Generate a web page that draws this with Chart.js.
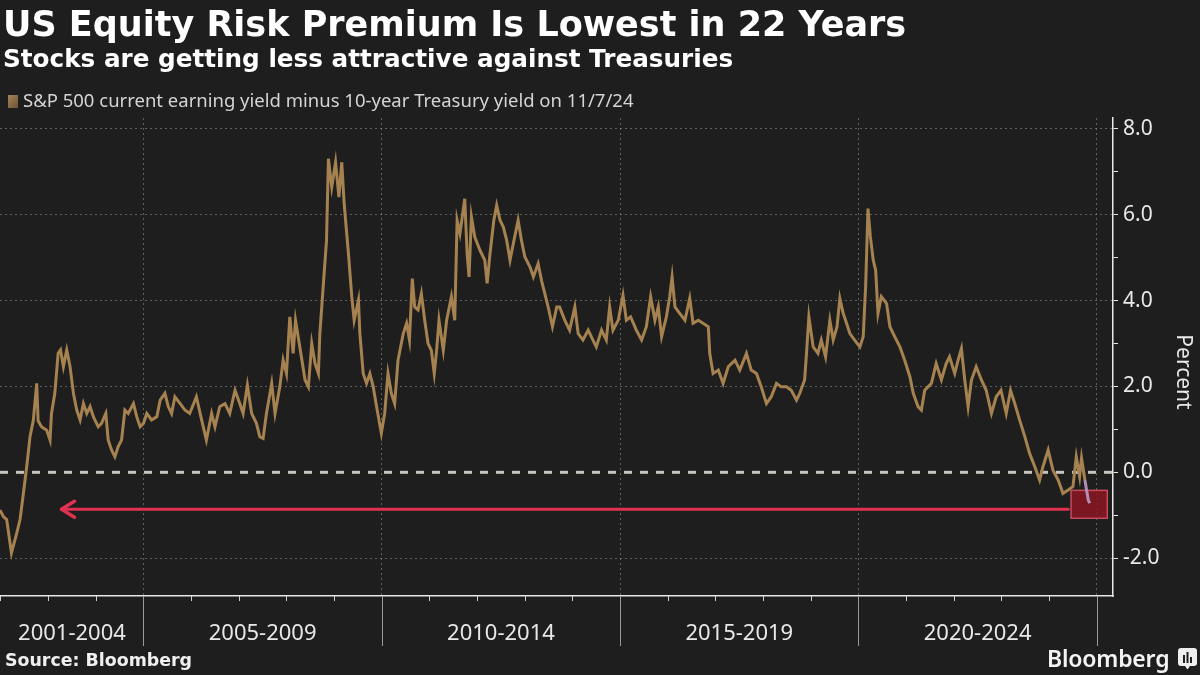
<!DOCTYPE html>
<html>
<head>
<meta charset="utf-8">
<script src="https://cdn.jsdelivr.net/npm/chart.js@4.4.1/dist/chart.umd.min.js"></script>
<style>
  html, body { margin: 0; padding: 0; background: #1e1e1e; }
  #wrap { position: relative; width: 1200px; height: 675px; overflow: hidden; background: #1e1e1e; }
  #chart { position: absolute; left: 0; top: 0; }
  .t { position: absolute; white-space: nowrap; }
  #title { left: 3px; top: 6px; font: bold 35px 'DejaVu Sans'; line-height: 36px; color: #ffffff; }
  #subtitle { left: 3px; top: 46px; font: bold 24.7px 'DejaVu Sans'; line-height: 26px; color: #ffffff; }
  #legend { left: 8px; top: 88px; font: 18.5px 'Noto Sans'; line-height: 24px; color: #d4d4d4; }
  #legend span { display: inline-block; width: 10px; height: 13px; margin-right: 5px; vertical-align: -1px;
                 background: linear-gradient(135deg, #a4845a, #6e5234); }
  #source { left: 5px; top: 650px; font: bold 17.4px 'DejaVu Sans'; line-height: 20px; color: #f0f0f0; }
  #brand { left: 1047px; top: 644px; font: 600 23px 'Noto Sans'; line-height: 28px; color: #f4f4f4; letter-spacing: -0.2px; }
  #icon { position: absolute; left: 1178px; top: 648px; }
</style>
</head>
<body>
<div id="wrap">
  <canvas id="chart" width="1200" height="675"></canvas>
  <div class="t" id="title">US Equity Risk Premium Is Lowest in 22 Years</div>
  <div class="t" id="subtitle">Stocks are getting less attractive against Treasuries</div>
  <div class="t" id="legend"><span></span>S&amp;P 500 current earning yield minus 10-year Treasury yield on 11/7/24</div>
  <div class="t" id="source">Source: Bloomberg</div>
  <div class="t" id="brand">Bloomberg</div>
  <svg id="icon" width="19" height="22" viewBox="0 0 19 22">
    <path d="M3 0 H16 Q19 0 19 3 V15 Q19 18 16 18 H12 L9.5 21.5 L7 18 H3 Q0 18 0 15 V3 Q0 0 3 0 Z" fill="#eeeeee"/>
    <rect x="5" y="7" width="2" height="8" fill="#1e1e1e"/>
    <rect x="8.5" y="4" width="2" height="11" fill="#1e1e1e"/>
    <rect x="12" y="9" width="2" height="6" fill="#1e1e1e"/>
  </svg>
</div>
<script>
// decimal year of each reading
const years = [
  2001.99, 2002.06, 2002.13, 2002.23, 2002.34, 2002.41, 2002.48, 2002.55, 2002.62, 2002.69,
  2002.76, 2002.79, 2002.86, 2002.97, 2003.04, 2003.07, 2003.14, 2003.21, 2003.26, 2003.32,
  2003.39, 2003.46, 2003.53, 2003.60, 2003.67, 2003.74, 2003.81, 2003.88, 2003.95, 2004.05,
  2004.12, 2004.21, 2004.26, 2004.33, 2004.40, 2004.47, 2004.54, 2004.61, 2004.68, 2004.79,
  2004.86, 2004.93, 2005.00, 2005.07, 2005.17, 2005.28, 2005.35, 2005.45, 2005.52, 2005.59,
  2005.66, 2005.77, 2005.87,
  2005.97, 2006.11, 2006.22, 2006.32, 2006.43, 2006.50, 2006.60, 2006.71, 2006.81, 2006.92,
  2007.02, 2007.09, 2007.18, 2007.27, 2007.37, 2007.44, 2007.51, 2007.58, 2007.69, 2007.76,
  2007.86, 2007.93, 2008.00, 2008.07, 2008.14, 2008.19, 2008.28, 2008.39, 2008.46, 2008.53,
  2008.60, 2008.67, 2008.70, 2008.77, 2008.84, 2008.88, 2008.95, 2009.03, 2009.10, 2009.16,
  2009.21, 2009.30, 2009.37, 2009.42, 2009.51, 2009.54, 2009.61, 2009.68, 2009.75,
  2009.82, 2009.89, 2009.99, 2010.06, 2010.13, 2010.20, 2010.27, 2010.34, 2010.45, 2010.52,
  2010.58, 2010.64, 2010.69, 2010.76, 2010.83, 2010.90, 2010.97, 2011.04, 2011.10, 2011.15,
  2011.20, 2011.29, 2011.36, 2011.46, 2011.53, 2011.58, 2011.64, 2011.74, 2011.79, 2011.83,
  2011.88, 2011.95, 2012.06, 2012.16, 2012.21, 2012.27, 2012.35, 2012.41, 2012.48, 2012.55,
  2012.62, 2012.69, 2012.76, 2012.86, 2012.93, 2013.00, 2013.11, 2013.18, 2013.28, 2013.35,
  2013.42, 2013.49, 2013.58, 2013.67,
  2013.73, 2013.84, 2013.94, 2014.05, 2014.12, 2014.22, 2014.33, 2014.43, 2014.50, 2014.61,
  2014.71, 2014.78, 2014.85, 2014.96, 2015.06, 2015.13, 2015.22, 2015.34, 2015.45, 2015.55,
  2015.64, 2015.73, 2015.80, 2015.87, 2015.97, 2016.04, 2016.09, 2016.15, 2016.25, 2016.36,
  2016.46, 2016.53, 2016.64, 2016.74, 2016.85, 2016.88, 2016.95, 2017.06, 2017.16, 2017.27,
  2017.41, 2017.51,
  2017.65, 2017.75, 2017.86, 2017.96, 2018.07, 2018.17, 2018.28, 2018.38, 2018.49, 2018.59,
  2018.70, 2018.77, 2018.87, 2018.91, 2018.96, 2019.05, 2019.15, 2019.22, 2019.31, 2019.40,
  2019.47, 2019.55, 2019.61, 2019.68, 2019.75, 2019.82, 2019.92, 2020.03, 2020.10, 2020.15,
  2020.20, 2020.25, 2020.31, 2020.36, 2020.41, 2020.48, 2020.59, 2020.66, 2020.76, 2020.87,
  2020.97, 2021.08, 2021.15, 2021.25, 2021.32, 2021.39,
  2021.53, 2021.63, 2021.74, 2021.84, 2021.91, 2022.02, 2022.09, 2022.16, 2022.23, 2022.30,
  2022.37, 2022.47, 2022.58, 2022.68, 2022.79, 2022.89, 2022.99, 2023.10, 2023.19, 2023.28,
  2023.38, 2023.49, 2023.59, 2023.70, 2023.80, 2023.87, 2023.98, 2024.08, 2024.19, 2024.29,
  2024.40, 2024.50, 2024.57, 2024.64, 2024.68, 2024.75, 2024.82, 2024.85
];
// earnings yield minus 10-year yield, percent
const premium = [
  -0.88, -1.03, -1.10, -1.88, -1.42, -1.10, -0.50, 0.13, 0.83, 1.22,
  2.07, 1.20, 1.06, 0.98, 0.75, 1.37, 1.84, 2.77, 2.85, 2.46,
  2.85, 2.46, 1.84, 1.45, 1.22, 1.60, 1.37, 1.53, 1.29, 1.06,
  1.14, 1.37, 0.75, 0.52, 0.36, 0.60, 0.75, 1.45, 1.37, 1.60,
  1.29, 1.06, 1.14, 1.37, 1.22, 1.29, 1.68, 1.84, 1.53, 1.37,
  1.76, 1.60, 1.45,
  1.37, 1.76, 1.22, 0.75, 1.37, 1.06, 1.53, 1.60, 1.37, 1.91,
  1.60, 1.37, 2.03, 1.37, 1.14, 0.83, 0.79, 1.37, 2.07, 1.37,
  1.99, 2.61, 2.30, 3.62, 2.77, 3.54, 2.92, 2.15, 1.99, 3.00,
  2.53, 2.30, 3.23, 4.32, 5.40, 7.30, 6.64, 7.22, 6.41, 7.22,
  6.26, 5.09, 4.09, 3.54, 4.01, 3.23, 2.30, 2.07, 2.30,
  1.99, 1.53, 0.91, 1.37, 2.30, 1.84, 1.60, 2.61, 3.23, 3.47,
  3.08, 4.51, 3.85, 3.78, 4.16, 3.54, 3.00, 2.84, 2.30, 2.84,
  3.54, 2.84, 3.54, 4.09, 3.54, 5.87, 5.56, 6.37, 5.09, 4.55,
  5.95, 5.48, 5.17, 4.94, 4.40, 5.09, 5.87, 6.22, 5.87, 5.71,
  5.40, 4.94, 5.33, 5.87, 5.40, 5.02, 4.78, 4.55, 4.86, 4.47,
  4.16, 3.85, 3.39, 3.85,
  3.85, 3.54, 3.31, 3.85, 3.23, 3.08, 3.31, 3.08, 2.92, 3.31,
  3.08, 3.85, 3.31, 3.54, 4.12, 3.54, 3.62, 3.31, 3.08, 3.39,
  4.09, 3.54, 3.85, 3.16, 3.62, 4.09, 4.55, 3.85, 3.70, 3.54,
  4.05, 3.47, 3.54, 3.47, 3.39, 2.77, 2.30, 2.38, 2.07, 2.46,
  2.61, 2.38,
  2.77, 2.38, 2.30, 1.99, 1.60, 1.76, 2.07, 1.99, 1.99, 1.91,
  1.68, 1.84, 2.15, 2.77, 3.62, 2.92, 2.77, 3.08, 2.69, 3.54,
  3.08, 3.39, 4.05, 3.70, 3.47, 3.23, 3.08, 2.92, 3.16, 4.32,
  6.14, 5.48, 4.94, 4.71, 3.70, 4.09, 3.93, 3.39, 3.16, 2.92,
  2.61, 2.22, 1.84, 1.53, 1.45, 1.91,
  2.07, 2.53, 2.15, 2.53, 2.69, 2.30, 2.61, 2.88, 2.15, 1.53,
  2.15, 2.46, 2.15, 1.91, 1.37, 1.76, 1.91, 1.37, 1.91, 1.60,
  1.22, 0.83, 0.44, 0.13, -0.18, 0.13, 0.52, 0.05, -0.18, -0.49,
  -0.41, -0.33, 0.36, -0.10, 0.33, -0.18, -0.64, -0.72
];

const yearTicks = [2002, 2003, 2004, 2005, 2006, 2007, 2008, 2009, 2010, 2011, 2012, 2013,
                   2014, 2015, 2016, 2017, 2018, 2019, 2020, 2021, 2022, 2023, 2024, 2025];
const bandLabels = ['2001-2004', '2005-2009', '2010-2014', '2015-2019', '2020-2024'];
const bandCenters = [2003.5, 2007.5, 2012.5, 2017.5, 2022.5];
const yTicks = [-2, -1, 0, 1, 2, 3, 4, 5, 6, 7, 8];

// annotation in data units: highlight box around the latest reading and arrow back to 2002
const box = { x0: 2024.46, x1: 2025.22, y0: -0.42, y1: -1.07 };
const arrow = { from: 2024.40, to: 2003.28, level: -0.86 };

const lineColor = '#a5824f';
const lastColor = '#b58cb8';
const gridColor = 'rgba(150,150,150,0.55)';
const axisColor = '#e8e8e8';

const decor = {
  id: 'decor',
  beforeDatasetsDraw(chart) {
    const { ctx, chartArea: a, scales: { x, y } } = chart;
    ctx.save();
    // dashed zero line
    const y0 = y.getPixelForValue(0);
    ctx.strokeStyle = '#c9c3bb';
    ctx.lineWidth = 3;
    ctx.setLineDash([8, 8]);
    ctx.beginPath();
    ctx.moveTo(a.left, y0);
    ctx.lineTo(a.right, y0);
    ctx.stroke();
    // highlight box
    ctx.setLineDash([]);
    const bx = x.getPixelForValue(box.x0), bw = x.getPixelForValue(box.x1) - bx;
    const by = y.getPixelForValue(box.y0), bh = y.getPixelForValue(box.y1) - by;
    ctx.fillStyle = 'rgba(140,22,34,0.85)';
    ctx.fillRect(bx, by, bw, bh);
    ctx.strokeStyle = '#c44c5c';
    ctx.lineWidth = 1.5;
    ctx.strokeRect(bx, by, bw, bh);
    ctx.restore();
  },
  afterDatasetsDraw(chart) {
    const { ctx, scales: { x, y } } = chart;
    const ay = y.getPixelForValue(arrow.level);
    const x1 = x.getPixelForValue(arrow.from), x2 = x.getPixelForValue(arrow.to);
    ctx.save();
    ctx.strokeStyle = '#e03250';
    ctx.lineWidth = 3;
    ctx.lineCap = 'round';
    ctx.lineJoin = 'round';
    ctx.beginPath();
    ctx.moveTo(x1, ay);
    ctx.lineTo(x2, ay);
    ctx.stroke();
    ctx.lineWidth = 3.5;
    ctx.beginPath();
    ctx.moveTo(x2 + 13, ay - 8);
    ctx.lineTo(x2, ay);
    ctx.lineTo(x2 + 13, ay + 8);
    ctx.stroke();
    ctx.restore();
  },
  afterDraw(chart) {
    const { ctx, chartArea: a, scales: { x } } = chart;
    ctx.save();
    // year ticks and band separators under the axis
    yearTicks.forEach(v => {
      const px = Math.round(x.getPixelForValue(v)) + 0.5;
      ctx.beginPath();
      if (v % 5 === 0) {
        ctx.strokeStyle = '#9a9a9a';
        ctx.lineWidth = 1;
        ctx.moveTo(px, a.bottom);
        ctx.lineTo(px, a.bottom + 50);
      } else {
        ctx.strokeStyle = '#d0d0d0';
        ctx.lineWidth = 1;
        ctx.moveTo(px, a.bottom);
        ctx.lineTo(px, a.bottom + 5);
      }
      ctx.stroke();
    });
    // axis title
    ctx.translate(1183, 372);
    ctx.rotate(Math.PI / 2);
    ctx.fillStyle = axisColor;
    ctx.font = '21px "Noto Sans"';
    ctx.textAlign = 'center';
    ctx.textBaseline = 'middle';
    ctx.fillText('Percent', 0, 0);
    ctx.restore();
  }
};

new Chart(document.getElementById('chart'), {
  type: 'line',
  data: {
    datasets: [{
      data: years.map((yr, i) => ({ x: yr, y: premium[i] })),
      borderColor: lineColor,
      borderWidth: 3,
      pointRadius: 0,
      tension: 0,
      segment: {
        borderColor: c => c.p0.parsed.x >= 2024.74 ? lastColor : undefined
      }
    }]
  },
  options: {
    responsive: false,
    animation: false,
    layout: { padding: { top: 118, left: 0, right: 0, bottom: 0 } },
    plugins: { legend: { display: false }, tooltip: { enabled: false } },
    scales: {
      x: {
        type: 'linear',
        min: 2001.99,
        max: 2025.34,
        afterBuildTicks: s => {
          s.ticks = yearTicks.concat(bandCenters).sort((a, b) => a - b).map(v => ({ value: v }));
        },
        afterFit: s => { s.height = 79; s.paddingLeft = 0; s.paddingRight = 0; },
        grid: {
          drawTicks: false,
          lineWidth: 1,
          color: c => (c.tick && c.tick.value % 5 === 0) ? gridColor : 'rgba(0,0,0,0)'
        },
        border: { display: true, color: axisColor, width: 1.5, dash: [2, 3] },
        ticks: {
          autoSkip: false,
          maxRotation: 0,
          padding: 25,
          color: axisColor,
          font: { family: 'Noto Sans', size: 22 },
          callback: v => {
            const i = bandCenters.indexOf(v);
            return i >= 0 ? bandLabels[i] : '';
          }
        }
      },
      y: {
        position: 'right',
        min: -2.88,
        max: 8.25,
        afterBuildTicks: s => { s.ticks = yTicks.map(v => ({ value: v })); },
        afterFit: s => { s.width = 87; },
        grid: {
          drawTicks: true,
          tickLength: 5,
          tickColor: axisColor,
          lineWidth: 1,
          color: c => (c.tick && c.tick.value % 2 === 0 && c.tick.value !== 0) ? gridColor : 'rgba(0,0,0,0)'
        },
        border: { display: true, color: axisColor, width: 1.5, dash: [2, 3] },
        ticks: {
          padding: 5,
          color: axisColor,
          font: { family: 'Noto Sans', size: 21 },
          callback: v => v % 2 === 0 ? v.toFixed(1) : ''
        }
      }
    }
  },
  plugins: [decor]
});
</script>
</body>
</html>
